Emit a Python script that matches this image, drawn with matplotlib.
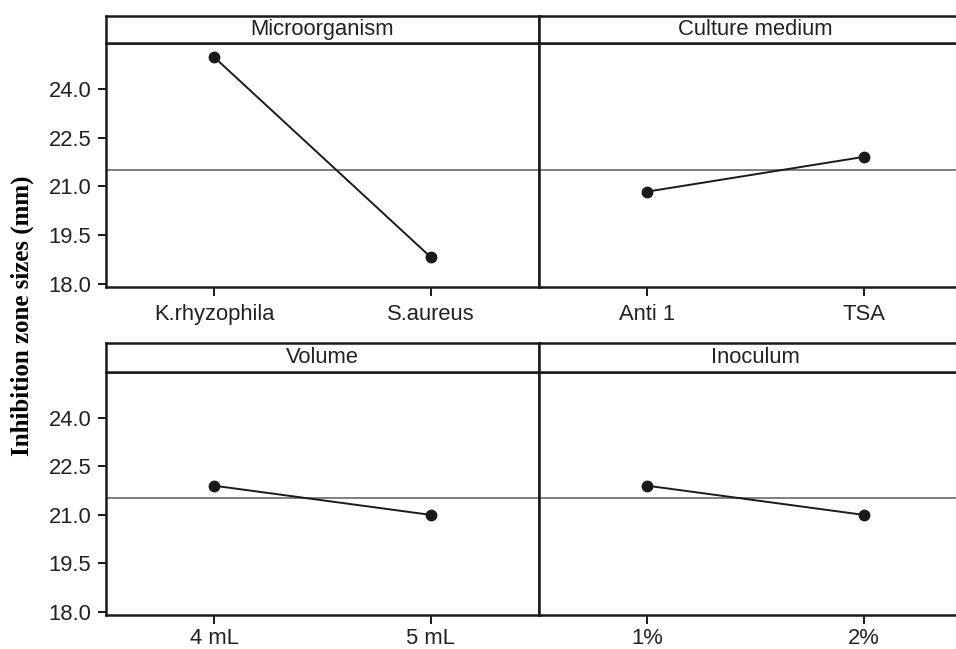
import numpy as np
import matplotlib
matplotlib.use("Agg")
from matplotlib import pyplot as plt

# main effects data
factors = ['Microorganism', 'Culture medium', 'Volume', 'Inoculum']
levels = [['K.rhyzophila', 'S.aureus'],
          ['Anti 1', 'TSA'],
          ['4 mL', '5 mL'],
          ['1%', '2%']]
means = [[24.98, 18.82],
         [20.84, 21.91],
         [21.90, 21.00],
         [21.90, 21.00]]
grand_mean = 21.52
yticks = [18.0, 19.5, 21.0, 22.5, 24.0]

plt.rcParams['font.family'] = ['Liberation Sans', 'DejaVu Sans']

W, H = 956, 649
fig = plt.figure(figsize=(W / 100, H / 100), dpi=100)

# panel boxes in pixels: (strip top, plot top, plot bottom)
col_x = [106, 539]
col_w = 433
rows = [(15.7, 43.3, 286.7), (343.3, 372.0, 615.0)]
xpads = [6, 3]
ylo, yhi = 17.91, 25.41
ink = '#1a1a1a'
fs = 15.8

for i, name in enumerate(factors):
    r, c = divmod(i, 2)
    top, ptop, pbot = rows[r]
    x0 = col_x[c]
    # plot area
    ax = fig.add_axes([x0 / W, 1 - pbot / H, col_w / W, (pbot - ptop) / H])
    xs = np.arange(len(levels[i]))
    ax.axhline(grand_mean, color='#7f7f7f', lw=1.4, zorder=1)
    ax.plot(xs, means[i], color=ink, lw=1.4, marker='o', ms=7.5, zorder=3)
    ax.set_xlim(-0.5, 1.5)
    ax.set_ylim(ylo, yhi)
    ax.set_xticks(xs)
    ax.set_xticklabels(levels[i], fontsize=fs, color='#222222')
    ax.tick_params(axis='x', length=6.7, width=1.4, color=ink, pad=xpads[r])
    if c == 0:
        ax.set_yticks(yticks)
        ax.set_yticklabels(['%.1f' % v for v in yticks], fontsize=fs, color='#222222')
        ax.tick_params(axis='y', length=5.5, width=1.4, color=ink, pad=5)
    else:
        ax.set_yticks([])
    for s in ax.spines.values():
        s.set_linewidth(1.8)
        s.set_color(ink)
    # strip with factor name
    st = fig.add_axes([x0 / W, 1 - ptop / H, col_w / W, (ptop - top) / H])
    st.set_xticks([])
    st.set_yticks([])
    for s in st.spines.values():
        s.set_linewidth(1.8)
        s.set_color(ink)
    st.text(0.5, 0.5, name, ha='center', va='center', fontsize=fs,
            color='#222222', transform=st.transAxes)

fig.text(0.023, 0.514, 'Inhibition zone sizes (mm)', rotation=90,
         ha='center', va='center', fontsize=18, fontweight='bold',
         family=['Liberation Serif', 'DejaVu Serif'])

plt.savefig('out.png', dpi=100)
plt.close()
